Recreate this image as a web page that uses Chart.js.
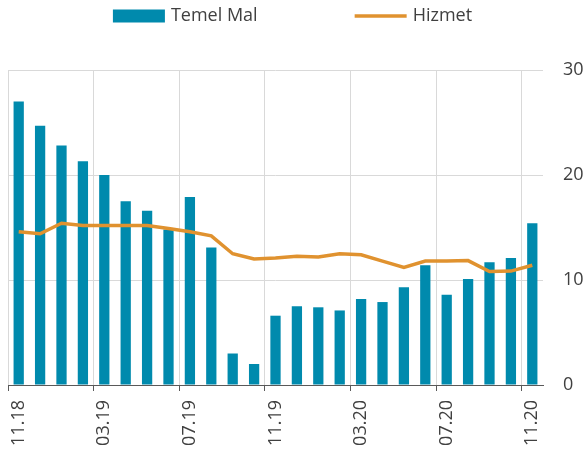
<!DOCTYPE html>
<html>
<head>
<meta charset="utf-8">
<script src="https://cdn.jsdelivr.net/npm/chart.js@4.4.1/dist/chart.umd.min.js"></script>
<style>
  html, body { margin: 0; padding: 0; background: #ffffff; }
  #wrap { width: 585px; height: 455px; position: relative; }
</style>
</head>
<body>
<div id="wrap"><canvas id="c" width="585" height="455"></canvas></div>
<script>
const categories = ['11.18','12.18','01.19','02.19','03.19','04.19','05.19','06.19','07.19','08.19','09.19','10.19',
  '11.19','12.19','01.20','02.20','03.20','04.20','05.20','06.20','07.20','08.20','09.20','10.20','11.20'];
const temelMal = [27.0,24.7,22.8,21.3,20.0,17.5,16.6,14.8,17.9,13.1,3.0,2.0,6.6,7.5,7.4,7.1,8.2,7.9,9.3,11.4,8.6,10.1,11.7,12.1,15.4];
const hizmet = [14.6,14.4,15.4,15.2,15.2,15.2,15.2,14.9,14.6,14.2,12.5,12.0,12.1,12.25,12.2,12.5,12.4,11.8,11.2,11.8,11.8,11.85,10.8,10.85,11.4];
const yTicks = [0, 10, 20, 30];
const seriesNames = ['Temel Mal', 'Hizmet'];

const BAR = '#008AAD';
const LINE = '#E0922F';
const GRID = '#D9D9D9';
const TEXT = '#404040';
const FONT = "'Open Sans', sans-serif";

const legendPlugin = {
  id: 'customLegend',
  afterDraw(chart) {
    const ctx = chart.ctx;
    ctx.save();
    ctx.font = '18px ' + FONT;
    const symW = 52, symGap = 6, itemGap = 97, cy = 16;
    const items = chart.data.datasets.map(ds => ({
      text: ds.label, type: ds.type, color: ds.type === 'line' ? ds.borderColor : ds.backgroundColor,
      w: ctx.measureText(ds.label).width
    }));
    let total = 0;
    items.forEach((it, i) => { total += symW + symGap + it.w + (i > 0 ? itemGap : 0); });
    let x = chart.width / 2 - total / 2;
    items.forEach((it) => {
      if (it.type === 'line') {
        ctx.strokeStyle = it.color;
        ctx.lineWidth = 3.5;
        ctx.beginPath();
        ctx.moveTo(x, cy);
        ctx.lineTo(x + symW, cy);
        ctx.stroke();
      } else {
        ctx.fillStyle = it.color;
        ctx.fillRect(x, cy - 6.5, symW, 13);
      }
      ctx.fillStyle = TEXT;
      ctx.textBaseline = 'middle';
      ctx.textAlign = 'left';
      ctx.fillText(it.text, x + symW + symGap, cy);
      x += symW + symGap + it.w + itemGap;
    });
    ctx.restore();
  }
};

new Chart(document.getElementById('c'), {
  data: {
    labels: categories,
    datasets: [
      {
        type: 'bar', label: seriesNames[0], data: temelMal,
        backgroundColor: BAR, borderWidth: 0,
        categoryPercentage: 1.0, barPercentage: 0.48, order: 1
      },
      {
        type: 'line', label: seriesNames[1], data: hizmet,
        borderColor: LINE, backgroundColor: LINE, borderWidth: 3.5,
        pointRadius: 0, tension: 0, order: 0
      }
    ]
  },
  options: {
    responsive: false,
    animation: false,
    layout: { padding: { top: 70, left: 8, right: 0, bottom: 0 } },
    plugins: { legend: { display: false }, tooltip: { enabled: false } },
    scales: {
      x: {
        offset: true,
        afterFit: (axis) => { axis.height = 70; },
        grid: {
          offset: true,
          color: (c) => (c.index % 4 === 0 ? GRID : 'rgba(0,0,0,0)'),
          tickColor: (c) => (c.index % 4 === 0 ? '#595959' : 'rgba(0,0,0,0)'),
          tickLength: 6,
          lineWidth: 1
        },
        border: { color: '#595959', width: 1 },
        ticks: {
          autoSkip: false, minRotation: 90, maxRotation: 90,
          color: TEXT, font: { family: FONT, size: 18 }, padding: 9,
          callback: function(v, i) { return i % 4 === 0 ? categories[i] : ''; }
        }
      },
      y: {
        position: 'right',
        min: 0, max: 30,
        afterFit: (axis) => { axis.width = 42; },
        afterBuildTicks: (axis) => { axis.ticks = yTicks.map(v => ({ value: v })); },
        grid: { color: GRID, drawTicks: false, lineWidth: 1 },
        border: { display: false },
        ticks: { color: TEXT, font: { family: FONT, size: 18 }, padding: 20 }
      }
    }
  },
  plugins: [legendPlugin]
});
</script>
</body>
</html>
